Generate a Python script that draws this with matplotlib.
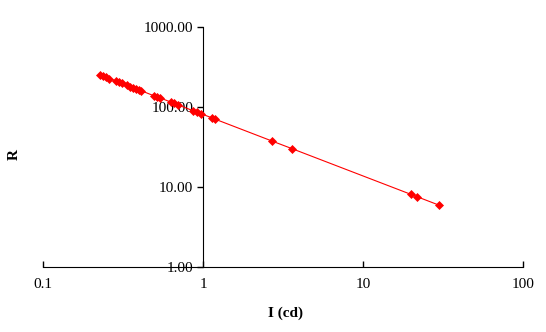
import matplotlib
matplotlib.use("Agg")
import matplotlib.pyplot as plt
from matplotlib.ticker import FixedLocator, FixedFormatter, NullLocator

plt.rcParams['font.family'] = ['Liberation Serif', 'DejaVu Serif']

I_cd = [0.228, 0.238, 0.248, 0.259, 0.287, 0.299, 0.312, 0.336, 0.350, 0.366,
        0.382, 0.399, 0.410, 0.494, 0.516, 0.539, 0.631, 0.659, 0.698, 0.866,
        0.918, 0.972, 1.138, 1.188, 2.694, 3.592, 19.84, 21.63, 29.66]
R = [251, 243, 235, 227, 211, 204, 197, 186, 180, 174,
     169, 163, 160, 138, 134, 130, 115, 111, 106, 90,
     86, 82.5, 73.1, 70.6, 37.6, 30.2, 8.12, 7.60, 5.96]

x_ticks = [0.1, 1, 10, 100]
x_tick_labels = ["0.1", "1", "10", "100"]
y_ticks = [1, 10, 100, 1000]
y_tick_labels = ["1.00", "10.00", "100.00", "1000.00"]

fig = plt.figure(figsize=(5.46, 3.32), dpi=100)
ax = fig.add_axes([43/546, 65/332, 480/546, 240/332])
ax.plot(I_cd, R, color='red', lw=0.8, marker='D', ms=4.5, mec='red', mfc='red', mew=0.5)
ax.set_xscale('log')
ax.set_yscale('log')
ax.set_xlim(0.1, 100)
ax.set_ylim(1, 1000)

ax.spines['top'].set_visible(False)
ax.spines['right'].set_visible(False)
ax.spines['left'].set_position(('data', 1))
ax.spines['left'].set_zorder(0)

ax.xaxis.set_major_locator(FixedLocator(x_ticks))
ax.xaxis.set_major_formatter(FixedFormatter(x_tick_labels))
ax.xaxis.set_minor_locator(NullLocator())
ax.yaxis.set_major_locator(FixedLocator(y_ticks))
ax.yaxis.set_major_formatter(FixedFormatter(y_tick_labels))
ax.yaxis.set_minor_locator(NullLocator())

ax.tick_params(axis='x', direction='in', length=4, width=1, labelsize=11, pad=8)
ax.tick_params(axis='y', direction='out', length=4, width=1, labelsize=11, pad=3)

fig.text(285/546, 1 - 313/332, "I (cd)", ha='center', va='center', fontsize=11, fontweight='bold')
fig.text(14/546, 1 - 155/332, "R", ha='center', va='center', fontsize=11, fontweight='bold', rotation=90)

fig.savefig("out.png", dpi=100)
